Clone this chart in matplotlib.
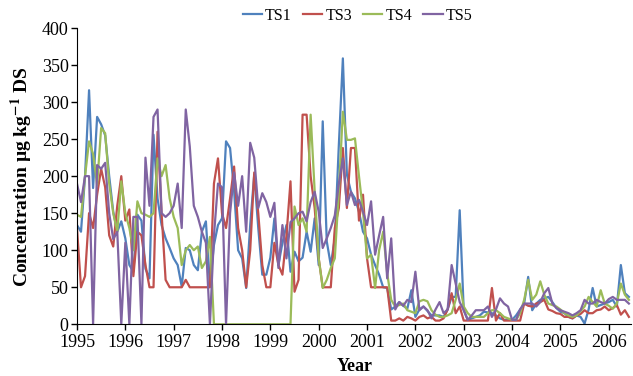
import matplotlib
matplotlib.use("Agg")
import matplotlib.pyplot as plt
import numpy as np

# monthly samples, Jan 1995 onwards
ts1 = [134, 125, 200, 316, 184, 280, 270, 255, 200, 152, 125, 139, 116, 80, 71, 148,
       140, 75, 62, 256, 170, 134, 116, 103, 89, 80, 51, 103, 100, 80, 73, 125,
       139, 53, 107, 134, 143, 247, 238, 180, 100, 89, 49, 134, 202, 130, 67, 67,
       90, 143, 80, 110, 134, 71, 98, 85, 90, 125, 98, 143, 80, 274, 112, 80,
       116, 242, 359, 202, 179, 170, 152, 125, 116, 94, 80, 67, 50, 49, 20, 24,
       30, 25, 21, 46, 10, 20, 24, 18, 12, 12, 12, 10, 20, 37, 37, 154,
       19, 6, 8, 10, 12, 17, 16, 15, 12, 8, 6, 6, 6, 12, 20, 28,
       64, 19, 28, 33, 35, 37, 30, 22, 17, 15, 10, 8, 12, 10, 1, 20,
       49, 24, 26, 28, 30, 33, 24, 80, 42, 37]

ts3 = [130, 50, 65, 150, 130, 175, 210, 185, 120, 105, 160, 200, 140, 155, 65, 125,
       120, 80, 50, 50, 260, 150, 60, 50, 50, 50, 50, 60, 50, 50, 50, 50,
       50, 50, 190, 224, 150, 130, 170, 213, 130, 100, 50, 100, 205, 150, 80, 50,
       50, 110, 80, 67, 120, 193, 44, 60, 283, 283, 200, 157, 89, 50, 50, 50,
       130, 157, 238, 157, 238, 238, 140, 175, 89, 50, 50, 50, 50, 50, 5, 5,
       8, 5, 10, 8, 5, 10, 12, 8, 10, 5, 5, 8, 20, 42, 15, 24,
       5, 5, 5, 5, 5, 5, 5, 49, 5, 15, 5, 5, 5, 5, 5, 28,
       25, 24, 28, 30, 33, 20, 18, 15, 14, 10, 10, 8, 12, 14, 19, 15,
       15, 19, 20, 24, 19, 22, 26, 13, 19, 10]

ts4 = [148, 145, 200, 247, 230, 188, 265, 258, 190, 150, 125, 193, 150, 130, 100, 166,
       150, 148, 145, 150, 224, 200, 215, 170, 145, 130, 80, 100, 107, 100, 105, 76,
       85, 118, 0, 0, 0, 0, 0, 0, 0, 0, 0, 0, 0, 0, 0, 0,
       0, 0, 0, 0, 0, 0, 159, 134, 143, 125, 283, 180, 89, 49, 60, 76,
       89, 180, 287, 249, 249, 251, 200, 152, 89, 94, 49, 100, 125, 69, 33, 24,
       26, 28, 19, 17, 15, 31, 33, 31, 19, 13, 10, 10, 12, 15, 33, 55,
       24, 15, 10, 10, 10, 10, 15, 19, 19, 15, 10, 8, 6, 6, 15, 33,
       60, 33, 40, 58, 40, 28, 26, 24, 20, 15, 12, 10, 12, 18, 24, 37,
       30, 24, 46, 28, 25, 21, 28, 55, 40, 33]

ts5 = [190, 165, 200, 200, 0, 215, 210, 218, 150, 115, 125, 0, 110, 0, 145, 145,
       0, 225, 160, 280, 290, 150, 145, 150, 160, 190, 130, 290, 240, 160, 145, 125,
       110, 0, 120, 190, 185, 0, 150, 205, 160, 200, 125, 245, 225, 157, 177, 165,
       145, 164, 76, 134, 89, 138, 143, 150, 152, 139, 165, 179, 152, 103, 116, 130,
       147, 190, 224, 161, 179, 161, 168, 152, 134, 166, 94, 120, 145, 62, 116, 20,
       30, 25, 33, 30, 71, 19, 24, 19, 8, 20, 30, 15, 20, 80, 55, 30,
       19, 6, 12, 19, 19, 19, 24, 10, 20, 35, 28, 24, 6, 6, 20, 28,
       28, 28, 24, 30, 42, 49, 28, 22, 19, 17, 15, 12, 15, 19, 33, 28,
       28, 33, 30, 28, 34, 37, 33, 33, 33, 28]

years = 1995 + np.arange(len(ts1)) / 12.0
series = [("TS1", ts1, "#4F81BD"), ("TS3", ts3, "#C0504D"),
          ("TS4", ts4, "#9BBB59"), ("TS5", ts5, "#8064A2")]

plt.rcParams["font.family"] = ["Liberation Serif", "DejaVu Serif"]
plt.rcParams["mathtext.fontset"] = "stix"

fig = plt.figure(figsize=(6.33, 3.76), dpi=100)
ax = fig.add_axes([0.1216, 0.1375, 0.876, 0.788])

for name, vals, col in series:
    ax.plot(years, vals, color=col, lw=1.6, label=name)

ax.set_xlim(1995, 2006.47)
ax.set_ylim(0, 400)
ax.set_xticks(range(1995, 2007))
ax.set_yticks(range(0, 401, 50))
ax.tick_params(labelsize=13, direction="out", length=4, width=1)
ax.tick_params(axis="x", pad=3)
ax.tick_params(axis="y", pad=2)
for s in ("top", "right"):
    ax.spines[s].set_visible(False)

ax.set_xlabel("Year", fontsize=13, fontweight="bold", labelpad=5)
ax.set_ylabel(r"Concentration µg kg$^{\mathbf{-1}}$ DS", fontsize=14,
              fontweight="bold", labelpad=5)

fig.legend(loc="center", bbox_to_anchor=(0.565, 0.958), ncol=4, frameon=False,
           fontsize=11.5, handlelength=1.2, handletextpad=0.2, columnspacing=0.7)

fig.savefig("out.png", dpi=100)
